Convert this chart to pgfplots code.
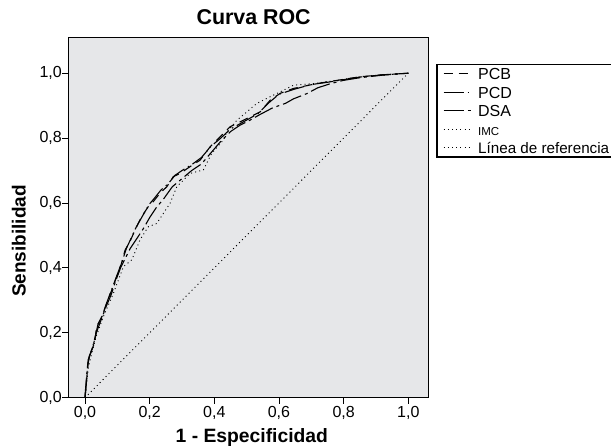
\documentclass[border=0pt]{standalone}
\usepackage{pgfplots}
\pgfplotsset{compat=1.18}
\usepackage{fontspec}
\setmainfont{Liberation Sans}
\definecolor{bggray}{RGB}{230,231,233}
\begin{document}
\begin{tikzpicture}
\begin{axis}[
  at={(68.5pt,-397.7pt)}, anchor=south west,
  scale only axis, width=359.5pt, height=360.2pt,
  xmin=-0.051, xmax=1.061, ymin=0, ymax=1.110,
  axis background/.style={fill=bggray},
  axis line style={line width=1pt, black},
  xtick={0,0.2,0.4,0.6,0.8,1.0},
  ytick={0,0.2,0.4,0.6,0.8,1.0},
  xtick pos=bottom, ytick pos=left,
  tick align=outside, major tick length=6pt,
  every tick/.style={black, line width=0.9pt},
  /pgf/number format/.cd, use comma, fixed, fixed zerofill, precision=1, assume math mode=true,
  /pgfplots/.cd,
  tick label style={font=\fontsize{16}{19}\selectfont},
  xticklabel style={inner sep=0pt, yshift=-2.5pt},
  yticklabel style={inner sep=0pt, xshift=-0.5pt},
  title={Curva ROC},
  title style={at={(0.515,1.0208)}, anchor=base, font=\fontsize{21.4}{24}\selectfont\bfseries, inner sep=0pt},
  xlabel={1 - Especificidad},
  xlabel style={at={(0.510,-0.125)}, anchor=base, font=\fontsize{19.3}{22}\selectfont\bfseries, inner sep=0pt},
  ylabel={Sensibilidad},
  ylabel style={at={(-0.119,0.435)}, anchor=base, rotate=0, font=\fontsize{19}{22}\selectfont\bfseries, inner sep=0pt},
  legend style={at={(1.0236,0.9264)}, anchor=north west, draw=black, line width=1.2pt, fill=white,
    font=\fontsize{16}{19}\selectfont, inner xsep=6pt, inner ysep=2pt, row sep=4.2pt, column sep=7pt,
    nodes={inner sep=0pt, text height=13pt, text depth=1pt}},
  legend cell align=left,
  legend image code/.code={\path[draw=none] (0pt,-6.7pt) -- (0pt,7.3pt); \draw[#1] (0pt,0pt) -- (27pt,0pt);},
]
\addplot[black, line width=1.1pt, dash pattern=on 9pt off 6pt] coordinates {
(0,0) (0.003,0.03) (0.008,0.09) (0.010,0.117) (0.021,0.148) (0.030,0.17) (0.036,0.219) (0.052,0.250) (0.067,0.291) (0.083,0.332) (0.098,0.373) (0.113,0.414) (0.124,0.455) (0.139,0.481) (0.155,0.517) (0.175,0.558) (0.196,0.589) (0.211,0.604) (0.232,0.630) (0.253,0.650) (0.273,0.681) (0.294,0.691) (0.325,0.712) (0.356,0.732) (0.387,0.773) (0.418,0.804) (0.449,0.835) (0.490,0.855) (0.542,0.881) (0.573,0.917) (0.604,0.938) (0.645,0.953) (0.707,0.966) (0.748,0.973) (0.800,0.981) (0.851,0.989) (0.92,0.995) (1,1)
};
\addlegendentry{PCB}
\addplot[black, line width=1.1pt, dash pattern=on 20pt off 4pt on 1.5pt off 4pt] coordinates {
(0,0) (0.002,0.03) (0.006,0.08) (0.012,0.125) (0.022,0.15) (0.032,0.19) (0.04,0.225) (0.055,0.255) (0.07,0.30) (0.085,0.34) (0.10,0.38) (0.115,0.42) (0.128,0.46) (0.142,0.49) (0.158,0.525) (0.178,0.56) (0.198,0.595) (0.215,0.615) (0.235,0.64) (0.258,0.66) (0.278,0.685) (0.30,0.70) (0.33,0.718) (0.36,0.74) (0.39,0.775) (0.42,0.80) (0.45,0.828) (0.49,0.85) (0.535,0.875) (0.57,0.91) (0.60,0.935) (0.645,0.95) (0.70,0.965) (0.75,0.972) (0.80,0.98) (0.85,0.988) (0.92,0.995) (1,1)
};
\addlegendentry{PCD}
\addplot[black, line width=1.1pt, dash pattern=on 20pt off 4pt on 3pt off 4pt] coordinates {
(0,0) (0.004,0.04) (0.008,0.10) (0.015,0.13) (0.025,0.16) (0.035,0.20) (0.05,0.24) (0.065,0.28) (0.08,0.315) (0.095,0.36) (0.11,0.40) (0.125,0.43) (0.14,0.46) (0.16,0.49) (0.18,0.52) (0.20,0.555) (0.22,0.585) (0.245,0.615) (0.27,0.65) (0.30,0.675) (0.33,0.70) (0.36,0.72) (0.39,0.755) (0.42,0.79) (0.45,0.82) (0.48,0.84) (0.51,0.855) (0.54,0.872) (0.58,0.893) (0.62,0.907) (0.645,0.921) (0.686,0.937) (0.72,0.955) (0.76,0.968) (0.80,0.978) (0.85,0.986) (0.92,0.994) (1,1)
};
\addlegendentry{DSA}
\addplot[black, line width=0.9pt, dash pattern=on 1pt off 3.2pt] coordinates {
(0,0) (0.005,0.05) (0.012,0.10) (0.021,0.137) (0.035,0.19) (0.057,0.25) (0.088,0.322) (0.119,0.404) (0.145,0.425) (0.170,0.486) (0.196,0.527) (0.222,0.537) (0.263,0.599) (0.284,0.650) (0.325,0.691) (0.366,0.702) (0.392,0.753) (0.428,0.794) (0.439,0.819) (0.470,0.855) (0.532,0.907) (0.562,0.922) (0.645,0.963) (0.707,0.968) (0.779,0.978) (0.851,0.989) (1,1)
};
\addlegendentry{\fontsize{11.5}{13}\selectfont IMC}
\addplot[black, line width=0.9pt, dash pattern=on 1pt off 3.2pt] coordinates {(0,0) (1,1)};
\addlegendentry{\fontsize{15.2}{18}\selectfont Línea de referencia}
\end{axis}
\pgfresetboundingbox
\path (0pt,0pt) rectangle (611pt,-447pt);
\end{tikzpicture}
\end{document}
